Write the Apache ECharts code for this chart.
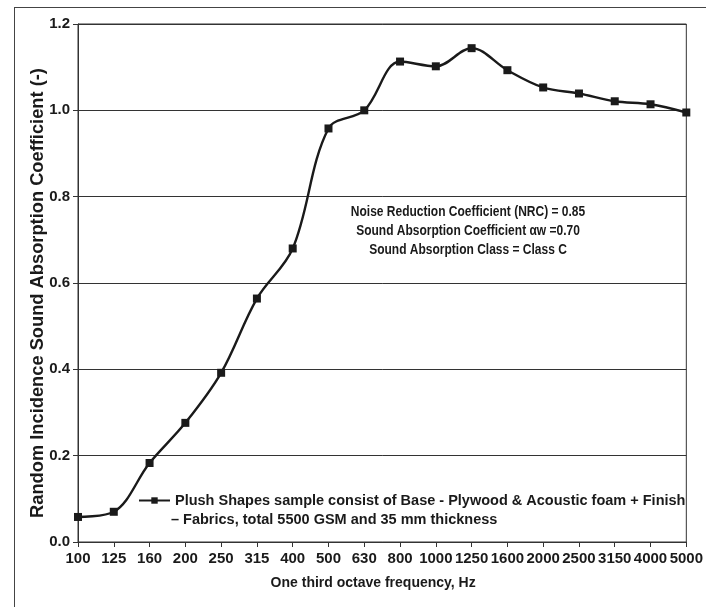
<!DOCTYPE html>
<html>
<head>
<meta charset="utf-8">
<script src="https://cdn.jsdelivr.net/npm/echarts@6/dist/echarts.min.js"></script>
<style>
  html, body { margin: 0; padding: 0; background: #fff; }
  #chart { width: 706px; height: 607px; }
</style>
</head>
<body>
<div id="chart"></div>
<script>
// one third octave bands, Hz
const frequencies = ['100', '125', '160', '200', '250', '315', '400', '500', '630', '800',
  '1000', '1250', '1600', '2000', '2500', '3150', '4000', '5000']
// random incidence sound absorption coefficient
const absorption = [0.058, 0.07, 0.183, 0.276, 0.392, 0.564, 0.68, 0.958, 1.0, 1.113,
  1.102, 1.144, 1.093, 1.053, 1.039, 1.021, 1.014, 0.995]
const seriesName = 'Plush Shapes sample consist of Base - Plywood & Acoustic foam + Finish'
const seriesNameCont = '– Fabrics, total 5500 GSM and 35 mm thickness'
const noteLines = [
  'Noise Reduction Coefficient (NRC) = 0.85',
  'Sound Absorption Coefficient αw =0.70',
  'Sound Absorption Class = Class C'
]

const font = "'Liberation Sans', Arial, sans-serif"
const ink = '#1a1a1a'

const chart = echarts.init(document.getElementById('chart'))

const option = {
  animation: false,
  textStyle: { fontFamily: font },
  grid: {
    left: 78,
    top: 24,
    right: 19,
    bottom: 65,
    show: true,
    borderColor: '#333',
    borderWidth: 1
  },
  legend: {
    left: 133,
    top: 488,
    itemWidth: 31,
    itemHeight: 8,
    itemGap: 0,
    textStyle: { fontFamily: font, fontWeight: 'bold', fontSize: 14.5, color: ink },
    data: [seriesName]
  },
  xAxis: {
    type: 'category',
    data: frequencies,
    boundaryGap: false,
    name: 'One third octave frequency, Hz',
    nameLocation: 'middle',
    nameGap: 34,
    nameMoveOverlap: false,
    nameTextStyle: { fontFamily: font, fontWeight: 'bold', fontSize: 14, color: ink, padding: [0, 18, 0, 0] },
    axisLine: { lineStyle: { color: '#333', width: 1 } },
    axisTick: { show: true, length: 5, lineStyle: { color: '#333' } },
    axisLabel: { margin: 9, fontFamily: font, fontWeight: 'bold', fontSize: 15, color: ink, interval: 0 },
    splitLine: { show: false }
  },
  yAxis: {
    type: 'value',
    min: 0,
    max: 1.2,
    interval: 0.2,
    name: 'Random Incidence Sound Absorption Coefficient (-)',
    nameLocation: 'middle',
    nameGap: 31,
    nameMoveOverlap: false,
    nameTextStyle: { fontFamily: font, fontWeight: 'bold', fontSize: 18.3, color: ink, padding: [0, 20, 0, 0] },
    axisLine: { show: true, lineStyle: { color: '#333', width: 1 } },
    axisTick: { show: true, length: 5, lineStyle: { color: '#333' } },
    axisLabel: {
      margin: 8,
      fontFamily: font,
      fontWeight: 'bold',
      fontSize: 15,
      color: ink,
      formatter: (v) => v.toFixed(1)
    },
    splitLine: { show: true, lineStyle: { color: '#333', width: 1 } }
  },
  series: [
    {
      name: seriesName,
      type: 'line',
      data: absorption,
      smooth: 0.35,
      symbol: 'rect',
      symbolSize: 8,
      lineStyle: { color: ink, width: 2.4 },
      itemStyle: { color: ink }
    }
  ],
  graphic: [
    // outer frame (top and left edges only, as in the scan)
    { type: 'line', shape: { x1: 14, y1: 7.5, x2: 706, y2: 7.5 }, style: { stroke: '#444', lineWidth: 1 } },
    { type: 'line', shape: { x1: 14.5, y1: 7, x2: 14.5, y2: 607 }, style: { stroke: '#444', lineWidth: 1 } },
    // legend entry wraps onto a second line
    {
      type: 'text',
      x: 171,
      y: 520,
      style: {
        text: seriesNameCont,
        verticalAlign: 'middle',
        fontFamily: font,
        fontWeight: 'bold',
        fontSize: 14.5,
        fill: ink
      }
    },
    {
      type: 'text',
      x: 468,
      y: 202,
      scaleX: 0.8,
      style: {
        text: noteLines.join('\n'),
        align: 'center',
        verticalAlign: 'top',
        fontFamily: font,
        fontWeight: 'bold',
        fontSize: 15,
        lineHeight: 19,
        fill: ink
      }
    }
  ]
}

chart.setOption(option)
</script>
</body>
</html>
